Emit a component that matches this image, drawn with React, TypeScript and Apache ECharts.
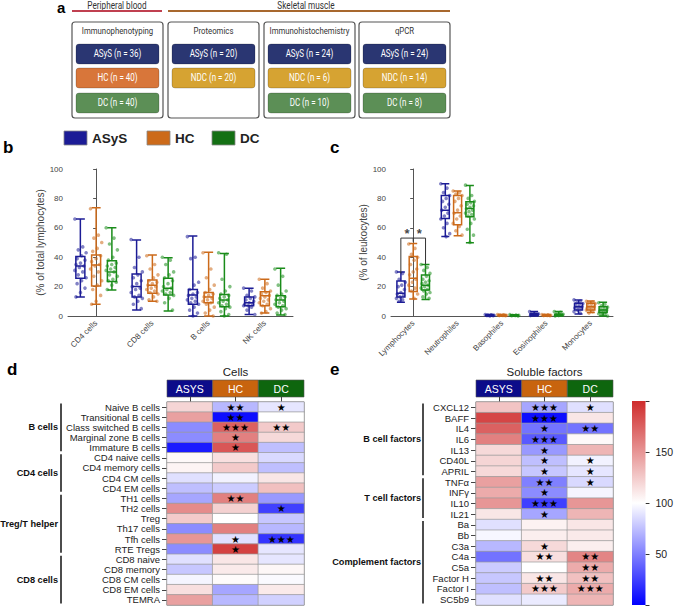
import React, { useEffect, useRef } from 'react';
import * as echarts from 'echarts';

// ---------- Panel a ----------
const A_SECTIONS = ['Peripheral blood', 'Skeletal muscle'];
const A_PANELS = ['Immunophenotyping', 'Proteomics', 'Immunohistochemistry', 'qPCR'];
const A_GROUPS = [['ASyS', 'HC', 'DC'], ['ASyS', 'NDC'], ['ASyS', 'NDC', 'DC'], ['ASyS', 'NDC', 'DC']];
const A_COUNTS = [[36, 40, 40], [20, 20], [24, 6, 10], [24, 14, 8]];
const A_COLORS: Record<string, string> = { ASyS: '#2a3672', HC: '#d8763a', NDC: '#d6a332', DC: '#5c8f56' };

// ---------- Panels b & c ----------
const GROUPS = ['ASyS', 'HC', 'DC'];
const GROUP_COLORS = ['#1c1c96', '#cc6a1a', '#1a8c1a'];

const B_CATEGORIES = ['CD4 cells', 'CD8 cells', 'B cells', 'NK cells'];
// [min, Q1, median, Q3, max]
const B_BOX_ASYS = [[13, 25.6, 34, 40.4, 66], [4, 13, 20, 28.6, 51.7], [0, 8, 14.3, 18, 54.4], [1, 7, 9, 13, 18.8]];
const B_BOX_HC = [[8, 20.4, 34.7, 41.5, 73.7], [10, 15.4, 21, 24.5, 41.5], [0, 9, 13, 16, 43.3], [2, 7, 13.8, 16.5, 25]];
const B_BOX_DC = [[17.7, 23.4, 30, 37.6, 60], [3.4, 14.3, 18.8, 25.6, 39.7], [0, 6.3, 10.9, 14.7, 42.6], [0.7, 6.3, 10.9, 13.8, 32.4]];

const B_PTS_ASYS = [
  [66, 47, 45, 43, 41, 39, 38, 36, 35, 34, 33, 31, 30, 28, 26, 24, 22, 19, 16, 13],
  [52, 40, 33, 30, 28, 26, 24, 22, 20, 19, 18, 16, 14, 13, 12, 10, 8, 5],
  [54, 40, 39, 23, 21, 18, 16, 15, 14, 13, 12, 11, 10, 9, 8, 6, 4, 2, 0],
  [19, 17, 14, 13, 12, 11, 10, 9, 8, 8, 7, 7, 6, 4, 1],
];
const B_PTS_HC = [
  [73, 55, 53, 50, 46, 44, 41, 39, 37, 35, 34, 32, 30, 27, 24, 21, 18, 14, 10, 8],
  [41, 35, 32, 28, 26, 24, 23, 22, 21, 20, 19, 18, 17, 16, 15, 13, 11, 10],
  [43, 32, 26, 21, 18, 16, 15, 14, 13, 12, 11, 10, 9, 8, 6, 4, 2, 0],
  [25, 22, 19, 17, 16, 15, 14, 13, 12, 11, 10, 9, 8, 7, 5, 3, 2],
];
const B_PTS_DC = [
  [60, 53, 49, 45, 40, 38, 36, 35, 34, 33, 32, 31, 30, 28, 27, 25, 24, 23, 21, 18],
  [40, 38, 35, 30, 28, 26, 24, 22, 20, 19, 18, 17, 16, 15, 14, 12, 9, 4],
  [43, 42, 25, 20, 17, 15, 14, 13, 12, 11, 10, 9, 8, 7, 6, 5, 3, 1, 0],
  [32, 27, 21, 17, 15, 14, 13, 12, 11, 10, 9, 8, 7, 6, 5, 4, 2, 1],
];

const C_CATEGORIES = ['Lymphocytes', 'Neutrophiles', 'Basophiles', 'Eosinophiles', 'Monocytes'];
const C_BOX_ASYS = [[9.3, 13, 15.4, 23.8, 30], [54, 66.4, 72, 82, 90], [0, 0.2, 0.4, 0.7, 1], [0, 0.4, 0.9, 1.6, 3], [1.4, 4, 6.3, 8.6, 10.9]];
const C_BOX_HC = [[11.6, 16.6, 25.6, 40.4, 49.4], [54.6, 62, 70.3, 82, 85], [0, 0.2, 0.4, 0.6, 1], [0, 0.2, 0.4, 0.6, 1], [2.3, 4, 6.3, 8.6, 10.2]];
const C_BOX_DC = [[11.3, 17.7, 21, 27.9, 35], [49.9, 67.6, 73.2, 77.8, 88.7], [0, 0.2, 0.3, 0.6, 0.9], [0, 0.2, 0.5, 1.2, 3], [0, 2.3, 4, 6.3, 9.3]];

const C_PTS_ASYS = [
  [30, 29, 25, 23, 21, 20, 18, 16, 15, 14, 13, 12, 11, 10],
  [90, 87, 84, 82, 80, 78, 76, 74, 72, 70, 68, 66, 63, 60, 56, 54],
  [1, 0.8, 0.6, 0.5, 0.4, 0.3, 0.2, 0.1],
  [3, 2.2, 1.8, 1.5, 1.2, 1, 0.8, 0.5, 0.3],
  [11, 10, 9, 8.5, 8, 7, 6.5, 6, 5.5, 5, 4, 3, 2],
];
const C_PTS_HC = [
  [49, 46, 42, 40, 38, 35, 32, 30, 28, 25, 23, 21, 19, 17, 15, 12],
  [85, 84, 83, 82, 80, 78, 75, 72, 70, 68, 66, 63, 61, 58, 55],
  [1, 0.8, 0.6, 0.5, 0.4, 0.3, 0.2],
  [1, 0.8, 0.6, 0.5, 0.4, 0.3, 0.2],
  [10, 9.5, 9, 8.5, 8, 7, 6.5, 6, 5.5, 5, 4.5, 4, 3, 2],
];
const C_PTS_DC = [
  [35, 33, 31, 29, 27, 25, 24, 23, 22, 21, 20, 19, 18, 17, 16, 15, 13, 12],
  [89, 82, 80, 78, 77, 76, 75, 74, 73, 72, 71, 70, 69, 68, 66, 63, 59, 55, 50],
  [0.9, 0.7, 0.5, 0.4, 0.3, 0.2, 0.1],
  [3, 2.5, 1.5, 1.2, 1, 0.8, 0.5, 0.3, 0.1],
  [9, 8, 7, 6, 5, 4.5, 4, 3.5, 3, 2.5, 2, 1.5, 1, 0.5, 0],
];
// significance brackets in c (Lymphocytes): bracket top, leg ends, star label
const C_SIG_TOP = 53;
const C_SIG_LEGS = [29, 50.5, 35]; // ASyS, HC, DC leg bottoms
const C_SIG_STARS = ['*', '*'];

// ---------- Panels d & e ----------
const HEAT_COLS = ['ASYS', 'HC', 'DC'];
const HEAT_COL_COLORS = ['#0c0c8a', '#c8640e', '#0e660e'];

const D_ROWS = ['Naive B cells', 'Transitional B cells', 'Class switched B cells', 'Marginal zone B cells', 'Immature B cells',
  'CD4 naive cells', 'CD4 memory cells', 'CD4 CM cells', 'CD4 EM cells', 'TH1 cells', 'TH2 cells', 'Treg', 'Th17 cells',
  'Tfh cells', 'RTE Tregs', 'CD8 naive', 'CD8 memory', 'CD8 CM cells', 'CD8 EM cells', 'TEMRA'];
const D_ASYS = [120, 145, 55, 55, 10, 103, 105, 88, 75, 65, 155, 125, 55, 150, 55, 88, 78, 96, 115, 145];
const D_HC = [72, 5, 175, 160, 180, 115, 125, 95, 80, 160, 122, 100, 160, 88, 190, 112, 110, 102, 65, 72];
const D_DC = [90, 100, 125, 118, 75, 85, 75, 112, 130, 60, 25, 78, 72, 20, 90, 90, 104, 98, 110, 82];
const D_SIG_HC = [2, 2, 3, 1, 1, 0, 0, 0, 0, 2, 0, 0, 0, 1, 1, 0, 0, 0, 0, 0];
const D_SIG_DC = [1, 0, 2, 0, 0, 0, 0, 0, 0, 0, 1, 0, 0, 3, 0, 0, 0, 0, 0, 0];
const D_GROUP_NAMES = ['B cells', 'CD4 cells', 'Treg/T helper', 'CD8 cells'];
const D_GROUP_SPANS = [[0, 4], [5, 8], [9, 14], [15, 19]];

const E_ROWS = ['CXCL12', 'BAFF', 'IL4', 'IL6', 'IL13', 'CD40L', 'APRIL', 'TNFα', 'INFγ', 'IL10', 'IL21',
  'Ba', 'Bb', 'C3a', 'C4a', 'C5a', 'Factor H', 'Factor I', 'SC5b9'];
const E_ASYS = [128, 188, 175, 160, 118, 120, 118, 145, 140, 150, 112, 88, 97, 72, 45, 80, 78, 75, 88];
const E_HC = [65, 5, 45, 35, 60, 75, 78, 50, 55, 25, 65, 106, 108, 118, 115, 100, 112, 125, 92];
const E_DC = [88, 112, 45, 103, 135, 95, 90, 85, 96, 150, 135, 112, 110, 108, 158, 140, 130, 140, 135];
const E_SIG_HC = [3, 3, 1, 3, 1, 1, 1, 2, 1, 3, 1, 0, 0, 1, 2, 0, 2, 3, 0];
const E_SIG_DC = [1, 0, 2, 0, 0, 1, 1, 1, 0, 0, 0, 0, 0, 0, 2, 2, 2, 3, 0];
const E_GROUP_NAMES = ['B cell factors', 'T cell factors', 'Complement factors'];
const E_GROUP_SPANS = [[0, 6], [7, 10], [11, 18]];

const SCALE_MIN = 0;
const SCALE_MAX = 200;
const SCALE_TICKS = [50, 100, 150];
const SCALE_COLORS = ['#0000ff', '#ffffff', '#cf2c2c'];

// ---------- layout ----------
const FONT = '"Liberation Sans", Arial, sans-serif';
const GB = { left: 68, top: 169, width: 225, height: 147 };
const GC = { left: 391, top: 169, width: 222, height: 147 };
const GD = { left: 167, top: 402, width: 137, height: 203 };
const GE = { left: 476, top: 402, width: 137, height: 203 };
const GS = { left: 632, top: 401, width: 18, height: 204 };
const OFFSETS = [-0.278, 0, 0.278];
const jit = (i: number) => ((((i * 7) % 11) / 10) - 0.5) * 0.2;

function buildOption() {
  const graphic: any[] = [];
  const txt = (text: string, x: number, y: number, size: number, opts: any = {}) => {
    graphic.push({
      type: 'text', x, y, scaleX: opts.scaleX || 1, silent: true,
      style: {
        text, fill: opts.fill || '#222', fontSize: size, fontFamily: opts.family || FONT,
        fontWeight: opts.bold ? 'bold' : 'normal', align: opts.align || 'center', verticalAlign: 'middle',
      },
    });
  };
  // panel letters
  txt('a', 57, 7.5, 15, { bold: true, align: 'left', fill: '#000' });
  txt('b', 3, 147, 17, { bold: true, align: 'left', fill: '#000' });
  txt('c', 330, 147, 17, { bold: true, align: 'left', fill: '#000' });
  txt('d', 7, 369, 17, { bold: true, align: 'left', fill: '#000' });
  txt('e', 330, 369, 17, { bold: true, align: 'left', fill: '#000' });

  // ---- panel a ----
  const RF = '"Roboto", sans-serif';
  txt(A_SECTIONS[0], 117, 5.5, 10, { family: RF, scaleX: 0.82, fill: '#333' });
  txt(A_SECTIONS[1], 306, 5.5, 10, { family: RF, scaleX: 0.82, fill: '#333' });
  graphic.push({ type: 'line', shape: { x1: 72, y1: 11, x2: 162, y2: 11 }, style: { stroke: '#c04050', lineWidth: 2 } });
  graphic.push({ type: 'line', shape: { x1: 168, y1: 11, x2: 450, y2: 11 }, style: { stroke: '#a8682e', lineWidth: 2 } });
  const boxX = [72, 168, 264, 359];
  A_PANELS.forEach((p, i) => {
    const x = boxX[i];
    graphic.push({ type: 'rect', shape: { x, y: 22, width: 91, height: 96, r: 3 }, style: { fill: '#fff', stroke: '#555', lineWidth: 1.2 } });
    txt(p, x + 45.5, 31, 9.5, { family: RF, scaleX: 0.82, fill: '#333' });
    A_GROUPS[i].forEach((g, j) => {
      const y = [44, 68, 93][j];
      graphic.push({ type: 'rect', shape: { x: x + 4, y, width: 83, height: 20, r: 3 }, style: { fill: A_COLORS[g], stroke: 'rgba(0,0,0,0.25)', lineWidth: 0.8 } });
      txt(`${g} (n = ${A_COUNTS[i][j]})`, x + 45.5, y + 10, 10, { family: RF, scaleX: 0.8, fill: '#fff' });
    });
  });

  // ---- legend b ----
  const legX = [64, 147, 212];
  GROUPS.forEach((g, i) => {
    graphic.push({ type: 'rect', shape: { x: legX[i], y: 131, width: 23, height: 14 }, style: { fill: GROUP_COLORS[i] === '#1a8c1a' ? '#147014' : GROUP_COLORS[i], stroke: '#888', lineWidth: 0.8 } });
    txt(g, legX[i] + 28, 138, 13.5, { bold: true, align: 'left', fill: '#222' });
  });

  // ---- headers d / e ----
  const header = (g: any, title: string) => {
    const cw = g.width / 3;
    txt(title, g.left + g.width / 2, 372, 11.5, { fill: '#222' });
    HEAT_COLS.forEach((c, i) => {
      graphic.push({ type: 'rect', shape: { x: g.left + i * cw, y: 380, width: cw, height: 17 }, style: { fill: HEAT_COL_COLORS[i], stroke: '#555', lineWidth: 0.6 } });
      txt(c, g.left + (i + 0.5) * cw, 389, 10.5, { fill: '#fff' });
    });
  };
  header(GD, 'Cells');
  header(GE, 'Soluble factors');

  // group brackets
  const brackets = (g: any, nRows: number, names: string[], spans: number[][], bx: number, lx: number) => {
    const rh = g.height / nRows;
    names.forEach((n, i) => {
      const y1 = g.top + spans[i][0] * rh + 1.5;
      const y2 = g.top + (spans[i][1] + 1) * rh - 1.5;
      graphic.push({ type: 'line', shape: { x1: bx, y1, x2: bx, y2 }, style: { stroke: '#111', lineWidth: 1.5 } });
      txt(n, lx, (y1 + y2) / 2, 9.2, { bold: true, align: 'right', fill: '#111' });
    });
  };
  brackets(GD, D_ROWS.length, D_GROUP_NAMES, D_GROUP_SPANS, 61, 58);
  brackets(GE, E_ROWS.length, E_GROUP_NAMES, E_GROUP_SPANS, 423, 421);

  // ---- series ----
  const series: any[] = [];
  const boxSet = (boxes: number[][][], pts: number[][][], xi: number, xvi: number, yi: number, bw: number) => {
    boxes.forEach((data, gi) => {
      series.push({
        type: 'boxplot', name: GROUPS[gi], xAxisIndex: xi, yAxisIndex: yi, data, boxWidth: [bw, bw], z: 3, silent: true,
        itemStyle: { color: 'rgba(255,255,255,0)', borderColor: GROUP_COLORS[gi], borderWidth: 1.5 },
      });
    });
    pts.forEach((grp, gi) => {
      const data: number[][] = [];
      grp.forEach((vals, ci) => vals.forEach((v, k) => data.push([ci + OFFSETS[gi] + jit(k), v])));
      series.push({
        type: 'scatter', xAxisIndex: xvi, yAxisIndex: yi, data, symbolSize: 3.6, z: 4, silent: true,
        itemStyle: { color: GROUP_COLORS[gi], opacity: 0.55 },
      });
    });
  };
  boxSet([B_BOX_ASYS, B_BOX_HC, B_BOX_DC], [B_PTS_ASYS, B_PTS_HC, B_PTS_DC], 0, 1, 0, 9);
  boxSet([C_BOX_ASYS, C_BOX_HC, C_BOX_DC], [C_PTS_ASYS, C_PTS_HC, C_PTS_DC], 2, 3, 1, 8);

  // significance bracket in c
  series.push({
    type: 'line', xAxisIndex: 3, yAxisIndex: 1, symbol: 'none', silent: true, z: 5,
    lineStyle: { color: '#333', width: 1 },
    data: [[OFFSETS[0], C_SIG_LEGS[0]], [OFFSETS[0], C_SIG_TOP], [OFFSETS[2], C_SIG_TOP], [OFFSETS[2], C_SIG_LEGS[2]]],
  });
  series.push({
    type: 'line', xAxisIndex: 3, yAxisIndex: 1, symbol: 'none', silent: true, z: 5,
    lineStyle: { color: '#333', width: 1 },
    data: [[OFFSETS[1], C_SIG_TOP], [OFFSETS[1], C_SIG_LEGS[1]]],
  });
  series.push({
    type: 'scatter', xAxisIndex: 3, yAxisIndex: 1, symbolSize: 0, silent: true, z: 5,
    data: C_SIG_STARS.map((s, i) => ({ value: [(OFFSETS[i] + OFFSETS[i + 1]) / 2, C_SIG_TOP + 3], s })),
    label: { show: true, position: 'inside', formatter: (p: any) => p.data.s, fontSize: 13, fontWeight: 'bold', color: '#111', fontFamily: FONT },
  });

  // heatmaps
  const heat = (cols: number[][], sig: number[][], xi: number, yi: number) => {
    const data: any[] = [];
    cols.forEach((vals, ci) => vals.forEach((v, ri) => data.push([ci, ri, v])));
    series.push({
      type: 'heatmap', xAxisIndex: xi, yAxisIndex: yi, data, silent: true,
      itemStyle: { borderColor: '#9a9a9a', borderWidth: 0.7 },
      label: {
        show: true, color: '#000', fontSize: 10, lineHeight: 10, fontFamily: '"DejaVu Sans", sans-serif',
        formatter: (p: any) => {
          const ci = p.value[0];
          const ri = p.value[1];
          const n = ci === 0 ? 0 : sig[ci - 1][ri];
          return '★'.repeat(n);
        },
      },
    });
  };
  heat([D_ASYS, D_HC, D_DC], [D_SIG_HC, D_SIG_DC], 4, 2);
  heat([E_ASYS, E_HC, E_DC], [E_SIG_HC, E_SIG_DC], 5, 3);

  // colour bar
  series.push({
    type: 'bar', xAxisIndex: 6, yAxisIndex: 4, data: [SCALE_MAX], barWidth: '100%', silent: true,
    itemStyle: {
      color: new echarts.graphic.LinearGradient(0, 0, 0, 1, [
        { offset: 0, color: SCALE_COLORS[2] }, { offset: 0.5, color: SCALE_COLORS[1] }, { offset: 1, color: SCALE_COLORS[0] },
      ]),
    },
  });

  const axisGray = '#555';
  const lblGray = '#444';
  const catAxis = (gi: number, cats: string[]) => ({
    type: 'category', gridIndex: gi, data: cats,
    axisLine: { lineStyle: { color: axisGray, width: 1 } },
    axisTick: { alignWithLabel: true, length: 3, lineStyle: { color: axisGray } },
    axisLabel: { rotate: 45, fontSize: 8, color: lblGray, fontFamily: FONT, margin: 6 },
  });
  const valY = (gi: number, name: string, gap: number) => ({
    type: 'value', gridIndex: gi, min: 0, max: 100, interval: 20, name, nameLocation: 'middle', nameGap: gap,
    nameTextStyle: { fontSize: 10, color: '#444', fontFamily: FONT },
    axisLine: { show: true, lineStyle: { color: axisGray, width: 1 } },
    axisTick: { show: true, length: 3, lineStyle: { color: axisGray } },
    axisLabel: { fontSize: 8, color: lblGray, fontFamily: FONT, margin: 5 },
    splitLine: { show: false },
  });
  const hiddenVal = (gi: number, n: number) => ({ type: 'value', gridIndex: gi, min: -0.5, max: n - 0.5, show: false });
  const heatX = (gi: number) => ({
    type: 'category', gridIndex: gi, data: HEAT_COLS, position: 'top',
    axisLine: { show: false }, axisLabel: { show: false },
    axisTick: { show: true, alignWithLabel: true, length: 5, lineStyle: { color: '#444' } },
    splitLine: { show: false },
  });
  const heatY = (gi: number, rows: string[]) => ({
    type: 'category', gridIndex: gi, data: rows, inverse: true,
    axisLine: { show: false },
    axisTick: { show: true, alignWithLabel: true, length: 5, lineStyle: { color: '#444' } },
    axisLabel: { fontSize: 9.5, color: '#222', fontFamily: FONT, margin: 7, interval: 0 },
  });

  return {
    animation: false,
    backgroundColor: '#fff',
    grid: [
      { ...GB }, { ...GC },
      { ...GD, show: true, borderColor: '#777', borderWidth: 1 },
      { ...GE, show: true, borderColor: '#777', borderWidth: 1 },
      { ...GS },
    ],
    xAxis: [
      catAxis(0, B_CATEGORIES), hiddenVal(0, B_CATEGORIES.length),
      catAxis(1, C_CATEGORIES), hiddenVal(1, C_CATEGORIES.length),
      heatX(2), heatX(3),
      { type: 'category', gridIndex: 4, data: [''], show: false },
    ],
    yAxis: [
      valY(0, '(% of total lymphocytes)', 16),
      valY(1, '(% of leukocytes)', 21),
      heatY(2, D_ROWS), heatY(3, E_ROWS),
      {
        type: 'value', gridIndex: 4, min: SCALE_MIN, max: SCALE_MAX, interval: 50, position: 'right',
        axisLine: { show: false }, splitLine: { show: false },
        axisTick: { show: true, length: 4, lineStyle: { color: '#333' } },
        axisLabel: {
          fontSize: 10.5, color: '#222', fontFamily: FONT, margin: 10,
          formatter: (v: number) => (SCALE_TICKS.indexOf(v) >= 0 ? String(v) : ''),
        },
      },
    ],
    visualMap: {
      show: false, type: 'continuous', min: SCALE_MIN, max: SCALE_MAX, seriesIndex: [series.length - 3, series.length - 2],
      inRange: { color: SCALE_COLORS },
    },
    graphic,
    series,
  };
}

export default function App() {
  const ref = useRef<HTMLDivElement>(null);
  useEffect(() => {
    if (!ref.current) return;
    const chart = echarts.init(ref.current, undefined, { renderer: 'svg' });
    chart.setOption(buildOption() as any);
    return () => chart.dispose();
  }, []);
  return <div ref={ref} style={{ position: 'fixed', left: 0, top: 0, width: 676, height: 606 }} />;
}
